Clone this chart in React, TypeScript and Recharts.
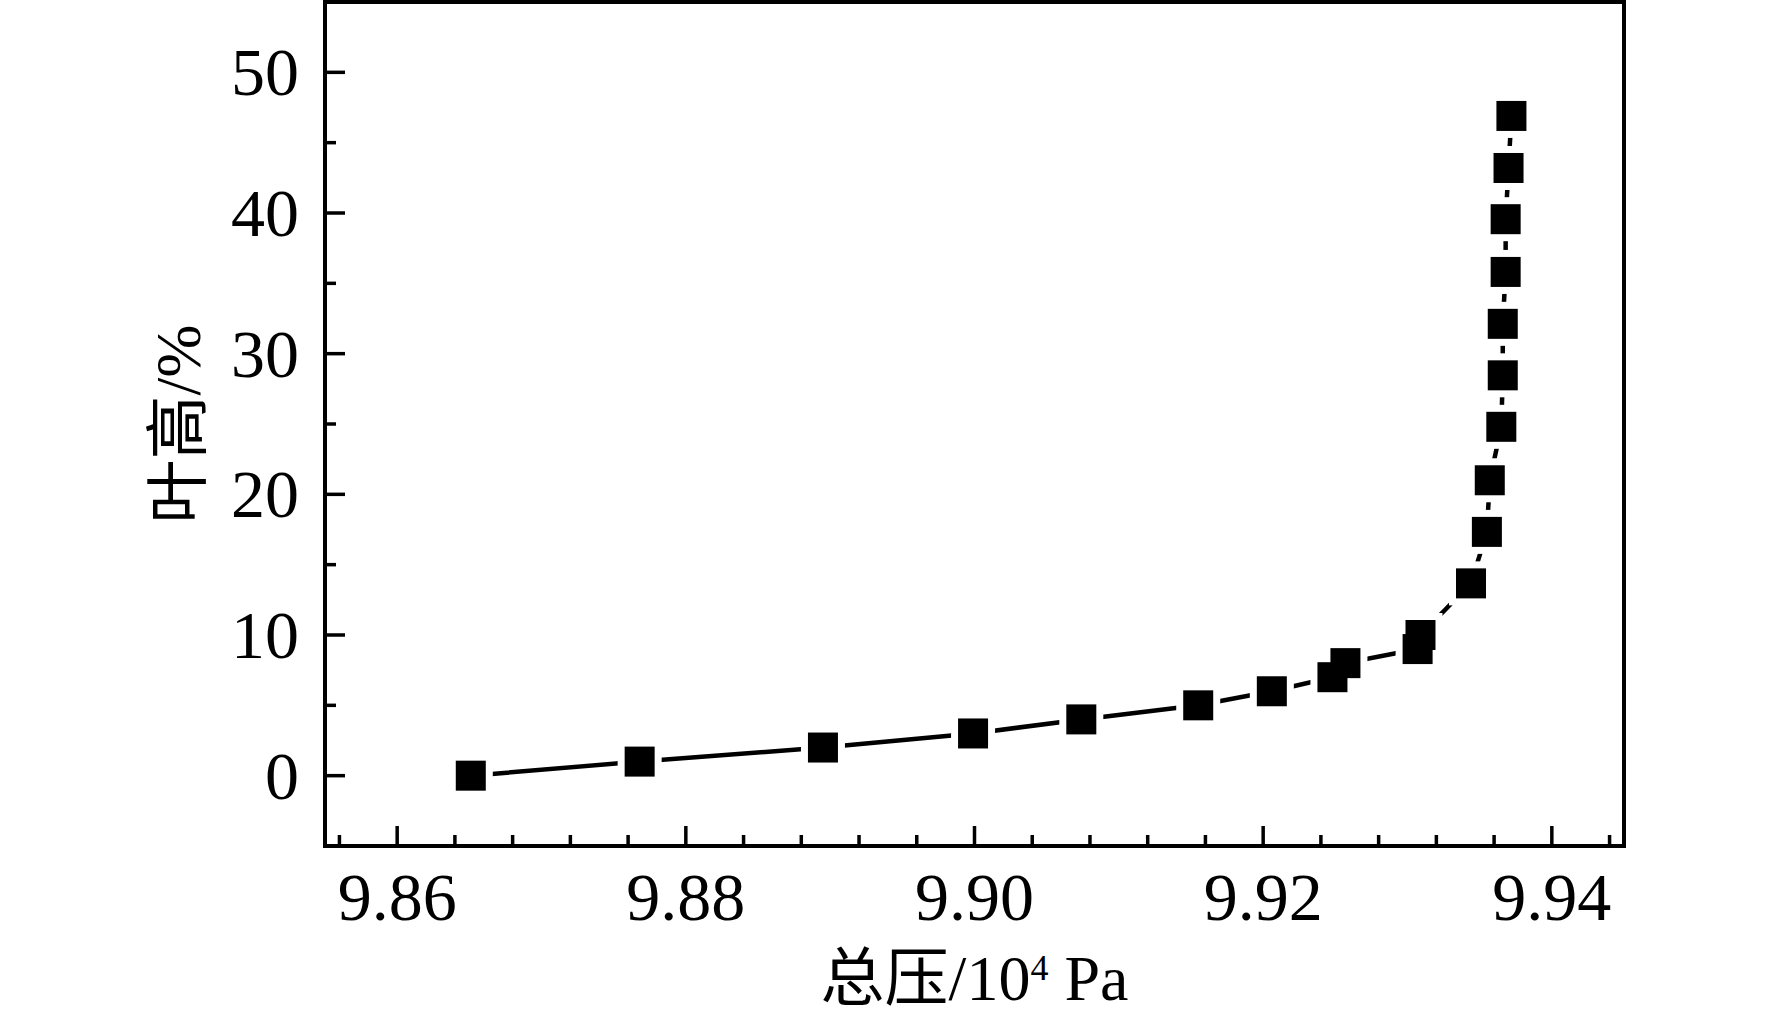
import { LineChart, Line, XAxis, YAxis, ReferenceLine } from 'recharts'

// ─── Data ────────────────────────────────────────────────────────────────────

// total pressure, 10^4 Pa
const PRESSURE = [
  9.8651, 9.8768, 9.8895, 9.8999, 9.9074, 9.9155, 9.9206, 9.9248, 9.9257, 9.9307, 9.9309,
  9.9344, 9.9355, 9.9357, 9.9365, 9.9366, 9.9366, 9.9368, 9.9368, 9.937, 9.9372,
]
// blade height, %
const BLADE_HEIGHT = [
  0, 1, 2, 3, 4, 5, 6, 7, 8, 9, 10,
  13.67, 17.33, 21.0, 24.8, 28.46, 32.12, 35.81, 39.56, 43.2, 46.9,
]

const X_MAJOR = [9.86, 9.88, 9.9, 9.92, 9.94]
const X_MINOR = [
  9.856, 9.864, 9.868, 9.872, 9.876, 9.884, 9.888, 9.892, 9.896,
  9.904, 9.908, 9.912, 9.916, 9.924, 9.928, 9.932, 9.936, 9.944,
]
const Y_MAJOR = [0, 10, 20, 30, 40, 50]
const Y_MINOR = [5, 15, 25, 35, 45]

const X_DOMAIN = [9.855, 9.945]
const Y_DOMAIN = [-5, 55]

const X_TITLE = '总压/10'
const X_TITLE_SUP = '4'
const X_TITLE_UNIT = 'Pa'
const Y_TITLE = '叶高/%'

// ─── Styling ─────────────────────────────────────────────────────────────────

const FONT = "'Liberation Serif', 'Noto Sans CJK SC', serif"
const TICK_FONT_SIZE = 68
const TITLE_FONT_SIZE = 64
const MAJOR_LEN = 20
const MINOR_LEN = 11
const MARKER = 30
const GAP = 7

const data = PRESSURE.map((p, i) => ({ p, h: BLADE_HEIGHT[i] }))

// ─── Ticks ───────────────────────────────────────────────────────────────────

function XTick({ x, y, payload }: any) {
  const major = X_MAJOR.includes(payload.value)
  return (
    <g>
      <line x1={x} x2={x} y1={y} y2={y - (major ? MAJOR_LEN : MINOR_LEN)} stroke="#000" strokeWidth={3.5} />
      {major && (
        <text x={x} y={y + 74} textAnchor="middle" fontFamily={FONT} fontSize={TICK_FONT_SIZE} fill="#000">
          {payload.value.toFixed(2)}
        </text>
      )}
    </g>
  )
}

function YTick({ x, y, payload }: any) {
  const major = Y_MAJOR.includes(payload.value)
  return (
    <g>
      <line x1={x} x2={x + (major ? MAJOR_LEN : MINOR_LEN)} y1={y} y2={y} stroke="#000" strokeWidth={3.5} />
      {major && (
        <text x={x - 26} y={y + 23} textAnchor="end" fontFamily={FONT} fontSize={TICK_FONT_SIZE} fill="#000">
          {payload.value}
        </text>
      )}
    </g>
  )
}

// ─── Axis titles ─────────────────────────────────────────────────────────────

function XTitle({ viewBox }: any) {
  const cx = viewBox.x + viewBox.width / 2
  return (
    <text x={cx} y={viewBox.y + 154} textAnchor="middle" fontFamily={FONT} fontSize={TITLE_FONT_SIZE} fill="#000">
      {X_TITLE}
      <tspan dy={-20} fontSize={36}>{X_TITLE_SUP}</tspan>
      <tspan dy={20}>{'\u00a0' + X_TITLE_UNIT}</tspan>
    </text>
  )
}

function YTitle({ viewBox }: any) {
  const cx = viewBox.x + viewBox.width - 147
  const cy = viewBox.y + viewBox.height / 2
  return (
    <text
      x={cx}
      y={cy}
      transform={`rotate(-90, ${cx}, ${cy})`}
      textAnchor="middle"
      dominantBaseline="central"
      fontFamily={FONT}
      fontSize={TITLE_FONT_SIZE}
      fill="#000"
    >
      {Y_TITLE}
    </text>
  )
}

// ─── Markers ─────────────────────────────────────────────────────────────────

function haloDot(props: any) {
  const s = MARKER + GAP * 2
  return <rect key={`halo-${props.index}`} x={props.cx - s / 2} y={props.cy - s / 2} width={s} height={s} fill="#fff" />
}

function squareDot(props: any) {
  return (
    <rect
      key={`sq-${props.index}`}
      x={props.cx - MARKER / 2}
      y={props.cy - MARKER / 2}
      width={MARKER}
      height={MARKER}
      fill="#000"
    />
  )
}

// ─── Chart ───────────────────────────────────────────────────────────────────

export default function App() {
  const frame = { stroke: '#000', strokeWidth: 4, strokeLinecap: 'square' as const }
  return (
    <div style={{ position: 'absolute', left: 0, top: 0, width: 1772, height: 1022, background: '#fff' }}>
      <LineChart width={1772} height={1022} data={data} margin={{ top: 2, right: 148, bottom: 0, left: 0 }}>
        <XAxis
          dataKey="p"
          type="number"
          domain={X_DOMAIN}
          allowDataOverflow
          ticks={[...X_MAJOR, ...X_MINOR]}
          interval={0}
          tickSize={0}
          tickMargin={0}
          tickLine={false}
          axisLine={frame}
          tick={XTick}
          height={176}
          label={{ content: XTitle }}
        />
        <YAxis
          dataKey="h"
          type="number"
          domain={Y_DOMAIN}
          allowDataOverflow
          ticks={[...Y_MAJOR, ...Y_MINOR]}
          interval={0}
          tickSize={0}
          tickMargin={0}
          tickLine={false}
          axisLine={frame}
          tick={YTick}
          width={325}
          label={{ content: YTitle }}
        />
        <ReferenceLine y={Y_DOMAIN[1]} {...frame} />
        <ReferenceLine x={X_DOMAIN[1]} {...frame} />
        <Line dataKey="h" stroke="#000" strokeWidth={4.5} dot={false} activeDot={false} isAnimationActive={false} />
        <Line dataKey="h" stroke="none" dot={haloDot} activeDot={false} isAnimationActive={false} />
        <Line dataKey="h" stroke="none" dot={squareDot} activeDot={false} isAnimationActive={false} />
      </LineChart>
    </div>
  )
}
